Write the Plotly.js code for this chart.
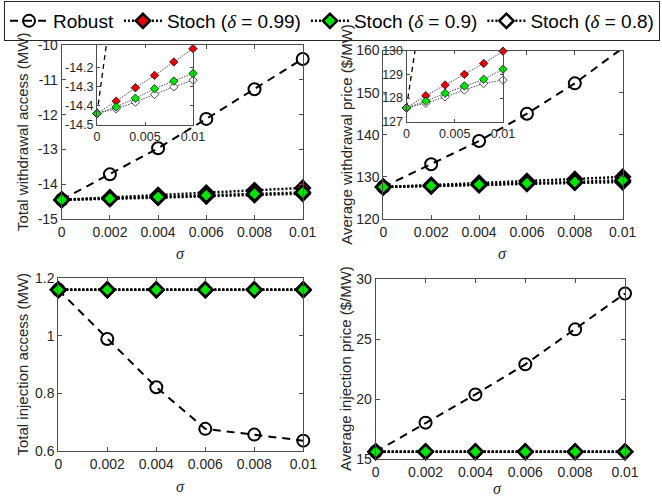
<!DOCTYPE html>
<html><head><meta charset="utf-8">
<script src="https://cdn.plot.ly/plotly-3.0.1.min.js"></script>
<style>html,body{margin:0;padding:0;background:#fff}#chart{width:662px;height:497px}</style>
</head><body><div id="chart"></div>
<script>
// ---------- data ----------
const sigma = [0, 0.002, 0.004, 0.006, 0.008, 0.01];
const sigmaTickText = ['0', '0.002', '0.004', '0.006', '0.008', '0.01'];
const insetXTicks = [0, 0.005, 0.01];
const insetXTickText = ['0', '0.005', '0.01'];

const seriesNames = ['Robust', 'Stoch (δ = 0.99)', 'Stoch (δ = 0.9)', 'Stoch (δ = 0.8)'];
const seriesFill = ['rgba(0,0,0,0)', '#e8000b', '#00e600', '#ffffff'];

// Total withdrawal access (MW)
const wdAccessRobust  = [-14.44, -13.71, -12.96, -12.12, -11.27, -10.40];
const wdAccessStoch99 = [-14.44, -14.375, -14.305, -14.24, -14.17, -14.10];
const wdAccessStoch90 = [-14.44, -14.405, -14.36, -14.31, -14.27, -14.23];
const wdAccessStoch80 = [-14.44, -14.415, -14.38, -14.34, -14.30, -14.265];
const wdAccessTicks = [-15, -14, -13, -12, -11, -10];
const wdAccessTickText = ['-15', '-14', '-13', '-12', '-11', '-10'];
const wdAccessInsetTicks = [-14.5, -14.4, -14.3, -14.2];
const wdAccessInsetTickText = ['-14.5', '-14.4', '-14.3', '-14.2'];

// Average withdrawal price ($/MW)
const wdPriceRobust  = [127.6, 133.0, 138.5, 145.0, 152.2, 160.6];
const wdPriceStoch99 = [127.59, 128.10, 128.55, 129.00, 129.46, 129.98];
const wdPriceStoch90 = [127.59, 127.87, 128.20, 128.51, 128.79, 129.22];
const wdPriceStoch80 = [127.59, 127.78, 128.05, 128.34, 128.62, 128.76];
const wdPriceTicks = [120, 130, 140, 150, 160];
const wdPriceTickText = ['120', '130', '140', '150', '160'];
const wdPriceInsetTicks = [127, 128, 129, 130];
const wdPriceInsetTickText = ['127', '128', '129', '130'];

// Total injection access (MW)
const injAccessRobust  = [1.16, 0.989, 0.821, 0.676, 0.656, 0.635];
const injAccessStoch99 = [1.16, 1.16, 1.16, 1.16, 1.16, 1.16];
const injAccessStoch90 = [1.16, 1.16, 1.16, 1.16, 1.16, 1.16];
const injAccessStoch80 = [1.16, 1.16, 1.16, 1.16, 1.16, 1.16];
const injAccessTicks = [0.6, 0.8, 1, 1.2];
const injAccessTickText = ['0.6', '0.8', '1', '1.2'];

// Average injection price ($/MW)
const injPriceRobust  = [15.63, 18.05, 20.40, 22.90, 25.81, 28.79];
const injPriceStoch99 = [15.63, 15.63, 15.63, 15.63, 15.63, 15.63];
const injPriceStoch90 = [15.63, 15.63, 15.63, 15.63, 15.63, 15.63];
const injPriceStoch80 = [15.63, 15.63, 15.63, 15.63, 15.63, 15.63];
const injPriceTicks = [15, 20, 25, 30];
const injPriceTickText = ['15', '20', '25', '30'];

// ---------- helpers ----------
const W = 662, H = 497;
const px = v => v / W;
const py = v => 1 - v / H;
const FONT = 'Liberation Sans, Arial, Helvetica, sans-serif';
const TXT = '#262626';
const AX = '#4d4d4d';

function legendName(n) {
  return n.replace('δ', '<span style="font-family:\'Liberation Serif\',serif"><i>δ</i></span>');
}

function mainTraces(xa, ya, robust, s99, s90, s80, showLeg) {
  const t = [];
  t.push({x: sigma, y: robust, xaxis: xa, yaxis: ya, type: 'scatter', mode: 'lines+markers',
    name: legendName(seriesNames[0]), legendrank: 1, showlegend: showLeg, cliponaxis: false,
    line: {color: '#000', width: 2, dash: '8px,6px'},
    marker: {symbol: 'circle-open', size: 12, color: '#000', line: {width: 2, color: '#000'}}});
  const st = [[s99, 1, 2], [s80, 3, 4], [s90, 2, 3]];
  st.forEach(([vals, idx, rank]) => {
    t.push({x: sigma, y: vals, xaxis: xa, yaxis: ya, type: 'scatter', mode: 'lines+markers',
      name: legendName(seriesNames[idx]), legendrank: rank, showlegend: showLeg, cliponaxis: false,
      line: {color: '#000', width: 2.5, dash: '2px,2px'},
      marker: {symbol: 'diamond', size: 11, color: seriesFill[idx], line: {width: 2.5, color: '#000'}}});
  });
  return t;
}

function insetTraces(xa, ya, robust, s99, s90, s80) {
  const t = [];
  t.push({x: sigma, y: robust, xaxis: xa, yaxis: ya, type: 'scatter', mode: 'lines',
    showlegend: false, line: {color: '#000', width: 1.3, dash: '5px,4px'}});
  const st = [[s99, 1], [s80, 3], [s90, 2]];
  st.forEach(([vals, idx]) => {
    t.push({x: sigma, y: vals, xaxis: xa, yaxis: ya, type: 'scatter', mode: 'lines+markers',
      showlegend: false, cliponaxis: false,
      line: {color: '#222', width: 0.8, dash: '1.5px,1.2px'},
      marker: {symbol: 'diamond', size: 6.5, color: seriesFill[idx], line: {width: 0.7, color: '#000'}}});
  });
  return t;
}

const data = [].concat(
  mainTraces('x', 'y', wdAccessRobust, wdAccessStoch99, wdAccessStoch90, wdAccessStoch80, true),
  mainTraces('x2', 'y2', wdPriceRobust, wdPriceStoch99, wdPriceStoch90, wdPriceStoch80, false),
  mainTraces('x3', 'y3', injAccessRobust, injAccessStoch99, injAccessStoch90, injAccessStoch80, false),
  mainTraces('x4', 'y4', injPriceRobust, injPriceStoch99, injPriceStoch90, injPriceStoch80, false),
  insetTraces('x5', 'y5', wdAccessRobust, wdAccessStoch99, wdAccessStoch90, wdAccessStoch80),
  insetTraces('x6', 'y6', wdPriceRobust, wdPriceStoch99, wdPriceStoch90, wdPriceStoch80)
);

function axis(extra, fontSize) {
  return Object.assign({
    showline: true, linecolor: AX, linewidth: 1, mirror: 'ticks',
    ticks: 'inside', ticklen: 4, tickcolor: AX, tickwidth: 1,
    showgrid: false, zeroline: false, fixedrange: true,
    tickfont: {family: FONT, size: fontSize || 14, color: TXT}
  }, extra);
}

const layout = {
  width: W, height: H,
  margin: {l: 0, r: 0, t: 0, b: 0, pad: 0},
  paper_bgcolor: '#ffffff', plot_bgcolor: 'rgb(255,255,255)',
  font: {family: FONT, color: TXT},
  showlegend: true,
  legend: {orientation: 'h', x: px(4), y: py(1), xanchor: 'left', yanchor: 'top',
    bgcolor: '#fff', bordercolor: '#262626', borderwidth: 1,
    font: {family: FONT, size: 19, color: '#000'}, itemwidth: 38, tracegroupgap: 0},
  xaxis:  axis({domain: [px(61.7), px(302.7)], range: [0, 0.01], anchor: 'y', tickvals: sigma, ticktext: sigmaTickText}),
  yaxis:  axis({domain: [py(219.3), py(45)], range: [-15, -10], anchor: 'x', tickvals: wdAccessTicks, ticktext: wdAccessTickText}),
  xaxis2: axis({domain: [px(383.3), px(622.7)], range: [0, 0.01], anchor: 'y2', tickvals: sigma, ticktext: sigmaTickText}),
  yaxis2: axis({domain: [py(219), py(50.5)], range: [120, 160], anchor: 'x2', tickvals: wdPriceTicks, ticktext: wdPriceTickText}),
  xaxis3: axis({domain: [px(58.3), px(303.3)], range: [0, 0.01], anchor: 'y3', tickvals: sigma, ticktext: sigmaTickText}),
  yaxis3: axis({domain: [py(450.7), py(278.3)], range: [0.6, 1.2], anchor: 'x3', tickvals: injAccessTicks, ticktext: injAccessTickText}),
  xaxis4: axis({domain: [px(375.7), px(625)], range: [0, 0.01], anchor: 'y4', tickvals: sigma, ticktext: sigmaTickText}),
  yaxis4: axis({domain: [py(459.3), py(279)], range: [15, 30], anchor: 'x4', tickvals: injPriceTicks, ticktext: injPriceTickText}),
  xaxis5: axis({domain: [px(97), px(193)], range: [0, 0.01], anchor: 'y5', tickvals: insetXTicks, ticktext: insetXTickText, ticklen: 3}, 12.5),
  yaxis5: axis({domain: [py(125), py(45)], range: [-14.5, -14.081], anchor: 'x5', tickvals: wdAccessInsetTicks, ticktext: wdAccessInsetTickText, ticklen: 3}, 12.5),
  xaxis6: axis({domain: [px(406.5), px(503)], range: [0, 0.01], anchor: 'y6', tickvals: insetXTicks, ticktext: insetXTickText, ticklen: 3}, 12.5),
  yaxis6: axis({domain: [py(121.7), py(50.7)], range: [127, 130], anchor: 'x6', tickvals: wdPriceInsetTicks, ticktext: wdPriceInsetTickText, ticklen: 3}, 12.5),
  annotations: [
    {text: 'Total withdrawal access (MW)', x: px(23), y: py(132), xref: 'paper', yref: 'paper', textangle: -90, showarrow: false, xanchor: 'center', yanchor: 'middle', font: {family: FONT, size: 15, color: TXT}},
    {text: 'Average withdrawal price ($/MW)', x: px(347), y: py(134.8), xref: 'paper', yref: 'paper', textangle: -90, showarrow: false, xanchor: 'center', yanchor: 'middle', font: {family: FONT, size: 15, color: TXT}},
    {text: 'Total injection access (MW)', x: px(22), y: py(364.5), xref: 'paper', yref: 'paper', textangle: -90, showarrow: false, xanchor: 'center', yanchor: 'middle', font: {family: FONT, size: 15, color: TXT}},
    {text: 'Average injection price ($/MW)', x: px(345), y: py(369), xref: 'paper', yref: 'paper', textangle: -90, showarrow: false, xanchor: 'center', yanchor: 'middle', font: {family: FONT, size: 15, color: TXT}},
    {text: '<i>σ</i>', x: px(180), y: py(253), xref: 'paper', yref: 'paper', showarrow: false, xanchor: 'center', yanchor: 'middle', font: {family: 'Liberation Serif, serif', size: 16, color: TXT}},
    {text: '<i>σ</i>', x: px(502), y: py(253), xref: 'paper', yref: 'paper', showarrow: false, xanchor: 'center', yanchor: 'middle', font: {family: 'Liberation Serif, serif', size: 16, color: TXT}},
    {text: '<i>σ</i>', x: px(180), y: py(486), xref: 'paper', yref: 'paper', showarrow: false, xanchor: 'center', yanchor: 'middle', font: {family: 'Liberation Serif, serif', size: 16, color: TXT}},
    {text: '<i>σ</i>', x: px(497), y: py(488), xref: 'paper', yref: 'paper', showarrow: false, xanchor: 'center', yanchor: 'middle', font: {family: 'Liberation Serif, serif', size: 16, color: TXT}}
  ]
};

Plotly.newPlot('chart', data, layout, {displayModeBar: false, staticPlot: true});
</script>
</body></html>
